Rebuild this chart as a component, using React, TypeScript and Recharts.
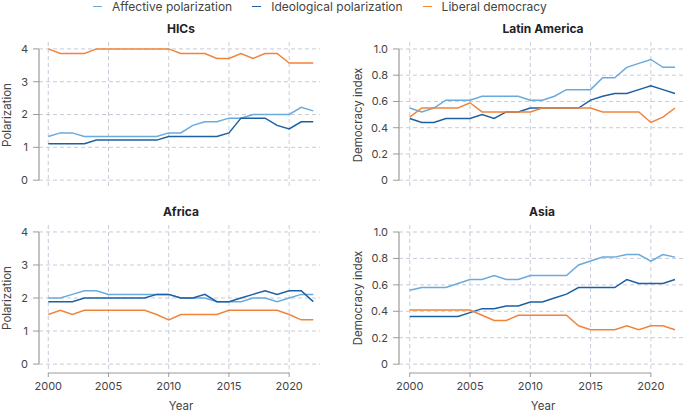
import React from "react";
import { LineChart, Line, XAxis, YAxis, CartesianGrid, ReferenceLine } from "recharts";

const years = [
  2000, 2001, 2002, 2003, 2004, 2005, 2006, 2007, 2008, 2009, 2010, 2011,
  2012, 2013, 2014, 2015, 2016, 2017, 2018, 2019, 2020, 2021, 2022,
];
const yearTicks = [2000, 2005, 2010, 2015, 2020];
const polTicks = [0, 1, 2, 3, 4];
const demTicks = [0, 0.2, 0.4, 0.6, 0.8, 1.0];

const hicsAffective = [1.33, 1.44, 1.44, 1.33, 1.33, 1.33, 1.33, 1.33, 1.33, 1.33, 1.44, 1.44, 1.67, 1.78, 1.78, 1.89, 1.89, 2.0, 2.0, 2.0, 2.0, 2.22, 2.11];
const hicsIdeological = [1.11, 1.11, 1.11, 1.11, 1.22, 1.22, 1.22, 1.22, 1.22, 1.22, 1.33, 1.33, 1.33, 1.33, 1.33, 1.44, 1.89, 1.89, 1.89, 1.67, 1.56, 1.78, 1.78];
const hicsLiberal = [4.0, 3.86, 3.86, 3.86, 4.0, 4.0, 4.0, 4.0, 4.0, 4.0, 4.0, 3.86, 3.86, 3.86, 3.71, 3.71, 3.86, 3.71, 3.86, 3.86, 3.57, 3.57, 3.57];

const latAffective = [0.55, 0.52, 0.55, 0.61, 0.61, 0.61, 0.64, 0.64, 0.64, 0.64, 0.61, 0.61, 0.64, 0.69, 0.69, 0.69, 0.78, 0.78, 0.86, 0.89, 0.92, 0.86, 0.86];
const latIdeological = [0.47, 0.44, 0.44, 0.47, 0.47, 0.47, 0.5, 0.47, 0.52, 0.52, 0.55, 0.55, 0.55, 0.55, 0.55, 0.61, 0.64, 0.66, 0.66, 0.69, 0.72, 0.69, 0.66];
const latLiberal = [0.48, 0.55, 0.55, 0.55, 0.55, 0.59, 0.52, 0.52, 0.52, 0.52, 0.52, 0.55, 0.55, 0.55, 0.55, 0.55, 0.52, 0.52, 0.52, 0.52, 0.44, 0.48, 0.55];

const afrAffective = [2.0, 2.0, 2.11, 2.22, 2.22, 2.11, 2.11, 2.11, 2.11, 2.11, 2.11, 2.0, 2.0, 2.0, 1.89, 1.89, 1.89, 2.0, 2.0, 1.89, 2.0, 2.11, 2.11];
const afrIdeological = [1.89, 1.89, 1.89, 2.0, 2.0, 2.0, 2.0, 2.0, 2.0, 2.11, 2.11, 2.0, 2.0, 2.11, 1.89, 1.89, 2.0, 2.11, 2.22, 2.11, 2.22, 2.22, 1.89];
const afrLiberal = [1.5, 1.63, 1.5, 1.63, 1.63, 1.63, 1.63, 1.63, 1.63, 1.5, 1.34, 1.5, 1.5, 1.5, 1.5, 1.63, 1.63, 1.63, 1.63, 1.63, 1.5, 1.34, 1.34];

const asiaAffective = [0.56, 0.58, 0.58, 0.58, 0.61, 0.64, 0.64, 0.67, 0.64, 0.64, 0.67, 0.67, 0.67, 0.67, 0.75, 0.78, 0.81, 0.81, 0.83, 0.83, 0.78, 0.83, 0.81];
const asiaIdeological = [0.36, 0.36, 0.36, 0.36, 0.36, 0.39, 0.42, 0.42, 0.44, 0.44, 0.47, 0.47, 0.5, 0.53, 0.58, 0.58, 0.58, 0.58, 0.64, 0.61, 0.61, 0.61, 0.64];
const asiaLiberal = [0.41, 0.41, 0.41, 0.41, 0.41, 0.41, 0.37, 0.33, 0.33, 0.37, 0.37, 0.37, 0.37, 0.37, 0.29, 0.26, 0.26, 0.26, 0.29, 0.26, 0.29, 0.29, 0.26];

const LIGHT = "#6aaadc";
const DARK = "#1d5fa3";
const ORANGE = "#f2843a";
const GRID = "#c8ccd9";
const AXIS = "#9b9b9b";
const FONT = "Inter, 'Noto Sans', sans-serif";

const build = (a: number[], i: number[], l: number[]) =>
  years.map((year, k) => ({ year, affective: a[k], ideological: i[k], liberal: l[k] }));

interface PanelProps {
  data: Array<{ year: number; affective: number; ideological: number; liberal: number }>;
  left: number;
  top: number;
  width: number;
  height: number;
  yWidth: number;
  marginTop: number;
  marginRight: number;
  bottomAxis: boolean;
  xDomain: [number, number];
  dem: boolean;
}

function Panel(p: PanelProps) {
  const yTicks = p.dem ? demTicks : polTicks;
  const yDomain: [number, number] = p.dem ? [-0.067, 1.053] : [-0.27, 4.21];
  const yMax = yTicks[yTicks.length - 1];
  const tickStyle = { fill: "#444", fontSize: 11, fontFamily: FONT };
  return (
    <div style={{ position: "absolute", left: p.left, top: p.top }}>
      <LineChart
        width={p.width}
        height={p.height}
        data={p.data}
        margin={{ top: p.marginTop, right: p.marginRight, bottom: p.bottomAxis ? 0 : 11, left: 0 }}
      >
        <CartesianGrid
          stroke={GRID}
          strokeDasharray="4 3"
          horizontalValues={yTicks}
          verticalValues={yearTicks}
        />
        <XAxis
          dataKey="year"
          type="number"
          domain={p.xDomain}
          allowDataOverflow
          ticks={yearTicks}
          interval={0}
          hide={!p.bottomAxis}
          height={p.bottomAxis ? 40 : 0}
          axisLine={false}
          tickLine={{ stroke: AXIS }}
          tickSize={4}
          tickMargin={5}
          tick={tickStyle}
        />
        <YAxis
          type="number"
          domain={yDomain}
          allowDataOverflow
          ticks={yTicks}
          interval={0}
          width={p.yWidth}
          axisLine={false}
          tickLine={{ stroke: AXIS }}
          tickSize={6}
          tickMargin={5}
          tick={tickStyle}
          tickFormatter={(v: number) => (p.dem && v !== 0 ? v.toFixed(1) : String(v))}
        />
        <ReferenceLine
          segment={[{ x: p.xDomain[0], y: 0 }, { x: p.xDomain[0], y: yMax }]}
          stroke={AXIS}
          strokeWidth={1.2}
          ifOverflow="visible"
        />
        {p.bottomAxis && (
          <ReferenceLine
            segment={[{ x: yearTicks[0], y: yDomain[0] }, { x: yearTicks[yearTicks.length - 1], y: yDomain[0] }]}
            stroke={AXIS}
            strokeWidth={1.2}
            ifOverflow="visible"
          />
        )}
        <Line type="linear" dataKey="affective" stroke={LIGHT} strokeWidth={1.5} dot={false} isAnimationActive={false} />
        <Line type="linear" dataKey="ideological" stroke={DARK} strokeWidth={1.5} dot={false} isAnimationActive={false} />
        <Line type="linear" dataKey="liberal" stroke={ORANGE} strokeWidth={1.5} dot={false} isAnimationActive={false} />
      </LineChart>
    </div>
  );
}

const Title = ({ text, x, y }: { text: string; x: number; y: number }) => (
  <div style={{
    position: "absolute", left: x - 100, top: y - 8, width: 200, textAlign: "center",
    fontFamily: FONT, fontWeight: 700, fontSize: 12, color: "#222", lineHeight: "16px",
  }}>{text}</div>
);

const VLabel = ({ text, x, y }: { text: string; x: number; y: number }) => (
  <div style={{
    position: "absolute", left: x - 100, top: y - 8, width: 200, textAlign: "center",
    fontFamily: FONT, fontSize: 11.5, color: "#444", lineHeight: "16px", transform: "rotate(-90deg)",
  }}>{text}</div>
);

const HLabel = ({ text, x, y }: { text: string; x: number; y: number }) => (
  <div style={{
    position: "absolute", left: x - 100, top: y - 8, width: 200, textAlign: "center",
    fontFamily: FONT, fontSize: 11.5, color: "#444", lineHeight: "16px",
  }}>{text}</div>
);

const legendItems = [
  { label: "Affective polarization", color: LIGHT },
  { label: "Ideological polarization", color: DARK },
  { label: "Liberal democracy", color: ORANGE },
];

export default function App() {
  const leftDomain: [number, number] = [1999.23, 2022.56];
  const rightDomain: [number, number] = [1999.11, 2022.83];
  return (
    <div style={{ position: "absolute", left: 0, top: 0, width: 685, height: 413, background: "#fff", overflow: "hidden" }}>
      <div style={{
        position: "absolute", left: 93, top: 0, display: "flex", gap: 20,
        fontFamily: FONT, fontSize: 12, color: "#444", lineHeight: "13px",
      }}>
        {legendItems.map((it) => (
          <div key={it.label} style={{ display: "flex", alignItems: "center" }}>
            <span style={{ display: "inline-block", width: 9, height: 1.5, background: it.color, marginRight: 10 }} />
            {it.label}
          </div>
        ))}
      </div>

      <Title text="HICs" x={181} y={29} />
      <Title text="Latin America" x={543} y={29} />
      <Title text="Africa" x={181} y={212} />
      <Title text="Asia" x={542} y={212} />

      <VLabel text="Polarization" x={7} y={115} />
      <VLabel text="Democracy index" x={358} y={115} />
      <VLabel text="Polarization" x={7} y={298} />
      <VLabel text="Democracy index" x={358} y={298} />

      <HLabel text="Year" x={181} y={406} />
      <HLabel text="Year" x={543} y={406} />

      <Panel data={build(hicsAffective, hicsIdeological, hicsLiberal)}
        left={0} top={0} width={330} height={200} yWidth={39} marginTop={42} marginRight={10}
        bottomAxis={false} xDomain={leftDomain} dem={false} />
      <Panel data={build(latAffective, latIdeological, latLiberal)}
        left={345} top={0} width={340} height={200} yWidth={54} marginTop={42} marginRight={0}
        bottomAxis={false} xDomain={rightDomain} dem={true} />
      <Panel data={build(afrAffective, afrIdeological, afrLiberal)}
        left={0} top={200} width={330} height={213} yWidth={39} marginTop={25} marginRight={10}
        bottomAxis={true} xDomain={leftDomain} dem={false} />
      <Panel data={build(asiaAffective, asiaIdeological, asiaLiberal)}
        left={345} top={200} width={340} height={213} yWidth={54} marginTop={25} marginRight={0}
        bottomAxis={true} xDomain={rightDomain} dem={true} />
    </div>
  );
}
